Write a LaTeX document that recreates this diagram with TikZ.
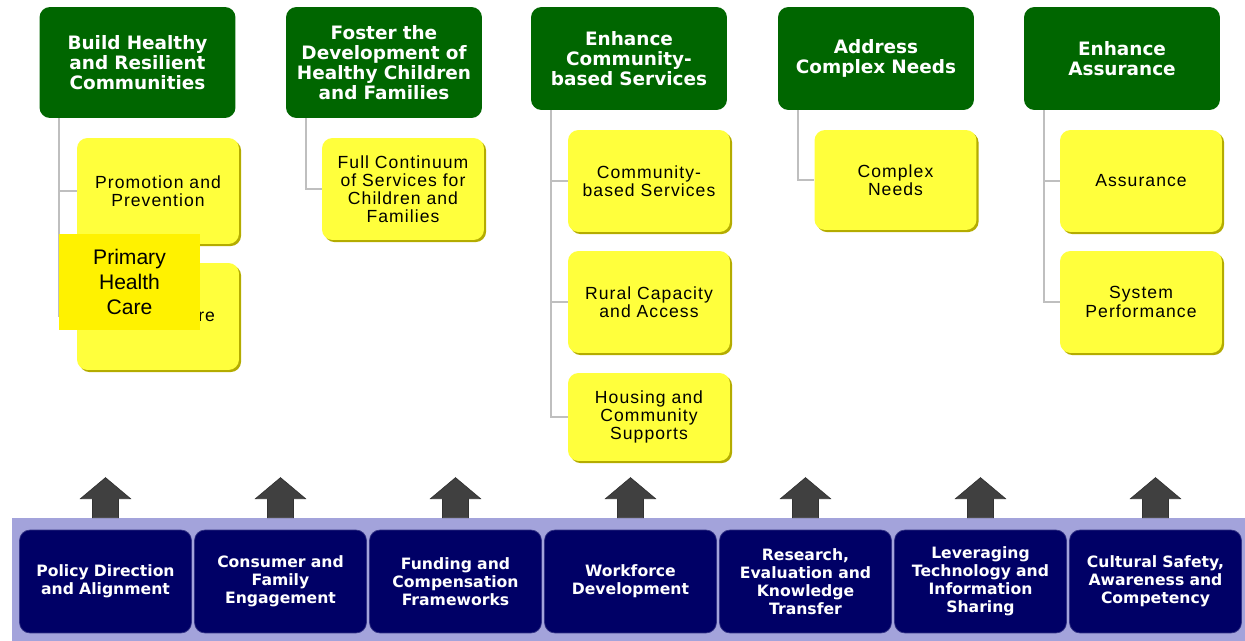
\documentclass[tikz,border=0pt]{standalone}
\usepackage{fontspec}
\setmainfont{Liberation Sans}
\newfontfamily\headfont{DejaVu Sans}
\newfontfamily\boxfont[LetterSpace=6]{Liberation Sans}
\usetikzlibrary{shadows}

\definecolor{goalgreen}{HTML}{006600}
\definecolor{areayellow}{HTML}{FFFF3C}
\definecolor{areashade}{HTML}{B4AC00}
\definecolor{stemgray}{HTML}{BFBFBF}
\definecolor{basenavy}{HTML}{000066}
\definecolor{basebar}{HTML}{A3A3DB}
\definecolor{arrowgray}{HTML}{404040}

\tikzset{
  goal/.style={fill=goalgreen, rounded corners=6pt, minimum width=3.92cm,
    text width=3.7cm, align=center, text=white, inner sep=0pt,
    font=\headfont\bfseries\fontsize{10.5}{11.4}\selectfont},
  area/.style={fill=areayellow, rounded corners=6pt, minimum width=3.24cm,
    text width=3.1cm, align=center, inner sep=0pt,
    drop shadow={shadow xshift=1.2pt, shadow yshift=-1.2pt, fill=areashade, opacity=1},
    font=\boxfont\fontsize{10}{10.3}\selectfont},
  base/.style={fill=basenavy, draw=basenavy!80!white, rounded corners=6pt,
    minimum width=3.44cm, minimum height=2.06cm, text width=3.4cm,
    align=center, text=white, inner sep=0pt,
    font=\headfont\bfseries\fontsize{8.9}{10.2}\selectfont},
  stem/.style={draw=stemgray, line width=1.1pt},
  uparrow/.style={fill=arrowgray, draw=black!80, line width=0.4pt}
}

\begin{document}
\begin{tikzpicture}[x=0.02cm,y=-0.02cm]
  \useasboundingbox (0,0) rectangle (1245,641);

  % goals
  \node[goal, minimum height=2.22cm] (g1) at (137.5,62.5) {Build Healthy\\and Resilient\\Communities};
  \node[goal, minimum height=2.22cm] (g2) at (384,62.5) {Foster the\\Development of\\Healthy Children\\and Families};
  \node[goal, minimum height=2.06cm] (g3) at (629,58.5) {Enhance\\Community-\\based Services};
  \node[goal, minimum height=2.06cm] (g4) at (876,58.5) {Address\\Complex Needs};
  \node[goal, minimum height=2.06cm] (g5) at (1122,58.5) {Enhance\\Assurance};

  % action areas
  \node[area, minimum height=2.12cm] (y11) at (158,191) {Promotion and\\Prevention};
  \node[area, minimum height=2.14cm] (y12) at (158,316.5) {Primary Care};
  \node[area, minimum height=2.04cm] (y21) at (403,189) {Full Continuum\\of Services for\\Children and\\Families};
  \node[area, minimum height=2.04cm] (y31) at (649,181) {Community-\\based Services};
  \node[area, minimum height=2.04cm] (y32) at (649,302) {Rural Capacity\\and Access};
  \node[area, minimum height=1.76cm] (y33) at (649,417) {Housing and\\Community\\Supports};
  \node[area, minimum height=2.0cm] (y41) at (895.5,180) {Complex\\Needs};
  \node[area, minimum height=2.04cm] (y51) at (1141,181) {Assurance};
  \node[area, minimum height=2.04cm] (y52) at (1141,302) {System\\Performance};

  \foreach \g/\a in {g1/y11,g1/y12,g2/y21,g3/y31,g3/y32,g3/y33,g4/y41,g5/y51,g5/y52}
    \draw[stem] (\g.south west) ++(20,0) |- (\a.west);

  \node[fill=yellow, minimum width=2.82cm, minimum height=1.92cm, text width=2.6cm,
    align=center, inner sep=0pt, font=\fontsize{12}{14.2}\selectfont]
    (phc) at (129.5,282) {Primary\\Health\\Care};

  % foundations
  \fill[basebar] (12,518) rectangle (1245,641);
  \foreach \i/\x/\t in {1/105.5/{Policy Direction\\and Alignment},
                        2/280.5/{Consumer and\\Family\\Engagement},
                        3/455.5/{Funding and\\Compensation\\Frameworks},
                        4/630.5/{Workforce\\Development},
                        5/805.5/{Research,\\Evaluation and\\Knowledge\\Transfer},
                        6/980.5/{Leveraging\\Technology and\\Information\\Sharing},
                        7/1155.5/{Cultural Safety,\\Awareness and\\Competency}}
  {
    \node[base] (b\i) at (\x,581.5) {\t};
    \filldraw[uparrow] (b\i.north) ++(-13,-12) -- ++(0,-19) -- ++(-12,0)
      -- ++(25,-21) -- ++(25,21) -- ++(-12,0) -- ++(0,19) -- cycle;
  }
\end{tikzpicture}
\end{document}
